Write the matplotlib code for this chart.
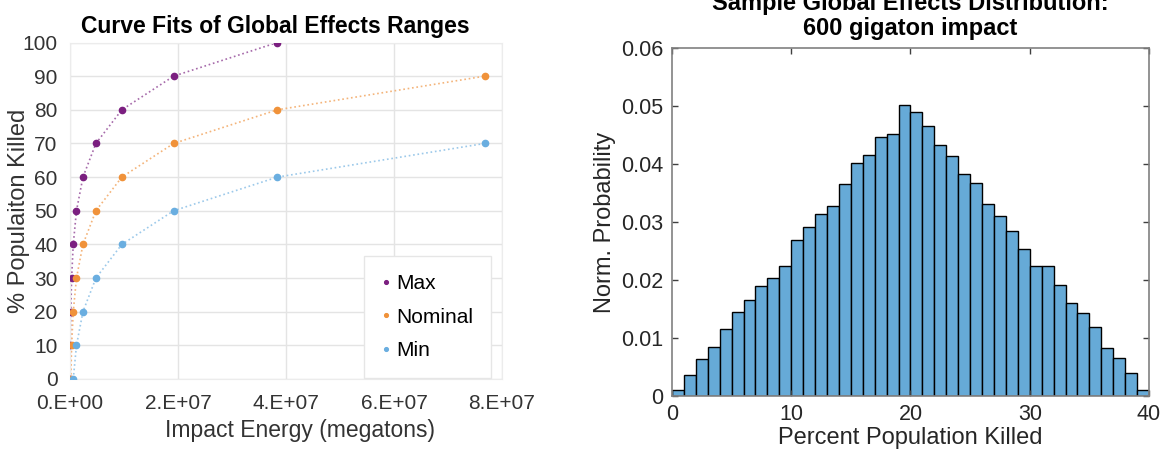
import matplotlib
matplotlib.use("Agg")
import matplotlib.pyplot as plt
import numpy as np

plt.rcParams['font.family'] = ['Liberation Sans', 'DejaVu Sans']

# Curve fit data (impact energy in megatons vs % population killed)
max_energy = [3.75e4, 7.5e4, 1.5e5, 3e5, 6e5, 1.2e6, 2.4e6, 4.8e6, 9.6e6, 1.92e7, 3.84e7]
max_killed = [0, 10, 20, 30, 40, 50, 60, 70, 80, 90, 100]
nom_energy = [1.5e5, 3e5, 6e5, 1.2e6, 2.4e6, 4.8e6, 9.6e6, 1.92e7, 3.84e7, 7.68e7]
nom_killed = [0, 10, 20, 30, 40, 50, 60, 70, 80, 90]
min_energy = [6e5, 1.2e6, 2.4e6, 4.8e6, 9.6e6, 1.92e7, 3.84e7, 7.68e7]
min_killed = [0, 10, 20, 30, 40, 50, 60, 70]

# Histogram for 600 gigaton impact (bins of 1% from 0 to 40)
bin_left = list(range(40))
probability = [0.0010, 0.0037, 0.0064, 0.0084, 0.0115, 0.0145, 0.0166, 0.0189, 0.0204, 0.0225,
               0.0269, 0.0291, 0.0313, 0.0327, 0.0365, 0.0402, 0.0416, 0.0447, 0.0452, 0.0501,
               0.0490, 0.0465, 0.0433, 0.0413, 0.0382, 0.0368, 0.0331, 0.0311, 0.0285, 0.0253,
               0.0225, 0.0225, 0.0191, 0.0160, 0.0143, 0.0119, 0.0083, 0.0065, 0.0039, 0.0010]

fig = plt.figure(figsize=(11.65, 4.5), dpi=100)

# ---- left: curve fits ----
ax1 = fig.add_axes([70 / 1165, 1 - 379 / 450, 432 / 1165, 336.5 / 450])
series = [
    ("Max", max_energy, max_killed, "#7b1f80", "#a66aaa"),
    ("Nominal", nom_energy, nom_killed, "#f0923a", "#f4b47a"),
    ("Min", min_energy, min_killed, "#6aaee0", "#9cc9ea"),
]
for name, xs, ys, col, lcol in series:
    ax1.plot(xs, ys, linestyle=":", color=lcol, linewidth=1.2, zorder=2)
    ax1.plot(xs, ys, linestyle="none", marker="o", markersize=4.5, color=col,
             label=name, zorder=3)

ax1.set_xlim(0, 8e7)
ax1.set_ylim(0, 100)
ax1.set_xticks([0, 2e7, 4e7, 6e7, 8e7])
ax1.set_xticklabels(["0.E+00", "2.E+07", "4.E+07", "6.E+07", "8.E+07"])
ax1.set_yticks(range(0, 101, 10))
ax1.grid(True, color="#e4e4e4", linewidth=1)
ax1.set_axisbelow(True)
ax1.tick_params(axis="x", length=0, labelsize=15, labelcolor="#333333", pad=11)
ax1.tick_params(axis="y", length=0, labelsize=15, labelcolor="#333333", pad=9)
for s in ax1.spines.values():
    s.set_color("#ececec")
ax1.set_title("Curve Fits of Global Effects Ranges", fontsize=16.5, fontweight="bold",
              x=0.475, pad=7)
ax1.set_xlabel("Impact Energy (megatons)", fontsize=16.5, color="#333333")
ax1.xaxis.set_label_coords(0.532, -0.118)
ax1.set_ylabel("% Populaiton Killed", fontsize=17, color="#333333")
ax1.yaxis.set_label_coords(-0.092, 0.5)
leg = ax1.legend(loc="lower right", bbox_to_anchor=(0.975, 0.003), borderaxespad=0,
                 fontsize=15, markerscale=0.6, handlelength=0.4, handletextpad=0.3,
                 labelspacing=0.7, borderpad=0.85, fancybox=False, framealpha=1)
leg.get_frame().set_edgecolor("#e6e6e6")
leg.get_frame().set_linewidth(1)

# ---- right: histogram ----
ax2 = fig.add_axes([672 / 1165, 1 - 396 / 450, 477 / 1165, 348 / 450])
ax2.bar(bin_left, probability, width=1, align="edge", color="#66aad7",
        edgecolor="black", linewidth=1)
ax2.set_xlim(0, 40)
ax2.set_ylim(0, 0.06)
ax2.set_xticks([0, 10, 20, 30, 40])
ax2.set_yticks([0, 0.01, 0.02, 0.03, 0.04, 0.05, 0.06])
ax2.set_yticklabels(["0", "0.01", "0.02", "0.03", "0.04", "0.05", "0.06"])
ax2.tick_params(direction="in", length=4, width=1, color="#404040", labelsize=15.5,
                labelcolor="#262626", top=True, right=True, pad=6)
for s in ax2.spines.values():
    s.set_color("#808080")
    s.set_linewidth(1.2)
ax2.set_title("Sample Global Effects Distribution:\n600 gigaton impact", fontsize=17,
              fontweight="bold", linespacing=1.15, pad=9)
ax2.set_xlabel("Percent Population Killed", fontsize=17, color="#262626", labelpad=1)
ax2.set_ylabel("Norm. Probability", fontsize=17, color="#262626")
ax2.yaxis.set_label_coords(-0.118, 0.5)

fig.savefig("out.png", dpi=100)
